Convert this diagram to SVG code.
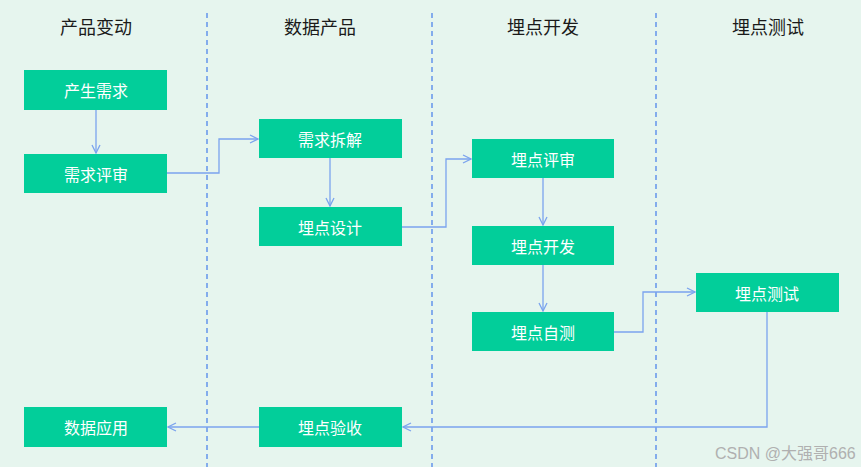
<svg xmlns="http://www.w3.org/2000/svg" width="861" height="467" viewBox="0 0 861 467">
<style>
.hdr{font-family:"Noto Sans CJK SC","Noto Sans",sans-serif;font-size:18px;fill:#1a1a1a;text-anchor:middle}
.box{fill:#02CE9A}
.lbl{font-family:"Noto Sans CJK SC","Noto Sans",sans-serif;font-size:16px;fill:#fff;text-anchor:middle;dominant-baseline:central}
.lane{stroke:#5A8EEB;stroke-width:1.4;stroke-dasharray:5,4;fill:none}
.con{stroke:#7BA3EE;stroke-width:1.3;fill:none}
.wm{font-family:"Liberation Sans","Noto Sans CJK SC",sans-serif;font-size:16px;fill:#b0b0b0}
</style>
<defs>
<marker id="arr" viewBox="0 0 10 10" refX="9" refY="5" markerWidth="10" markerHeight="10" markerUnits="userSpaceOnUse" orient="auto">
<path d="M1,1 L9,5 L1,9" fill="none" stroke="#7BA3EE" stroke-width="1.3"/>
</marker>
</defs>
<rect width="861" height="467" fill="#E6F5EE"/>
<g id="lanes">
<line class="lane" x1="207" y1="13" x2="207" y2="467"/>
<line class="lane" x1="432" y1="13" x2="432" y2="467"/>
<line class="lane" x1="656" y1="13" x2="656" y2="467"/>
</g>
<g id="headers">
<text class="hdr" x="96" y="34">产品变动</text>
<text class="hdr" x="320" y="34">数据产品</text>
<text class="hdr" x="543" y="34">埋点开发</text>
<text class="hdr" x="768" y="34">埋点测试</text>
</g>
<g id="connectors">
<line class="con" x1="96" y1="110" x2="96" y2="153" marker-end="url(#arr)"/>
<polyline class="con" points="167,173 219,173 219,139 258,139" marker-end="url(#arr)"/>
<line class="con" x1="330" y1="158" x2="330" y2="206" marker-end="url(#arr)"/>
<polyline class="con" points="402,227 446,227 446,159 471,159" marker-end="url(#arr)"/>
<line class="con" x1="543" y1="178" x2="543" y2="225" marker-end="url(#arr)"/>
<line class="con" x1="543" y1="265" x2="543" y2="311" marker-end="url(#arr)"/>
<polyline class="con" points="614,332 643,332 643,292 695,292" marker-end="url(#arr)"/>
<polyline class="con" points="767,312 767,427 403,427" marker-end="url(#arr)"/>
<line class="con" x1="259" y1="427" x2="168" y2="427" marker-end="url(#arr)"/>
</g>
<g id="n1"><rect class="box" x="24" y="70" width="143" height="40"/><text class="lbl" x="96" y="90">产生需求</text></g>
<g id="n2"><rect class="box" x="24" y="154" width="143" height="39"/><text class="lbl" x="96" y="174">需求评审</text></g>
<g id="n3"><rect class="box" x="259" y="119" width="143" height="39"/><text class="lbl" x="330" y="139">需求拆解</text></g>
<g id="n4"><rect class="box" x="259" y="207" width="143" height="39"/><text class="lbl" x="330" y="227">埋点设计</text></g>
<g id="n5"><rect class="box" x="472" y="139" width="142" height="39"/><text class="lbl" x="543" y="159">埋点评审</text></g>
<g id="n6"><rect class="box" x="472" y="226" width="142" height="39"/><text class="lbl" x="543" y="246">埋点开发</text></g>
<g id="n7"><rect class="box" x="472" y="312" width="142" height="39"/><text class="lbl" x="543" y="332">埋点自测</text></g>
<g id="n8"><rect class="box" x="696" y="273" width="143" height="39"/><text class="lbl" x="767" y="293">埋点测试</text></g>
<g id="n9"><rect class="box" x="259" y="407" width="143" height="40"/><text class="lbl" x="330" y="427">埋点验收</text></g>
<g id="n10"><rect class="box" x="24" y="407" width="143" height="40"/><text class="lbl" x="96" y="427">数据应用</text></g>
<text class="wm" x="715" y="459">CSDN @大强哥666</text>
</svg>
